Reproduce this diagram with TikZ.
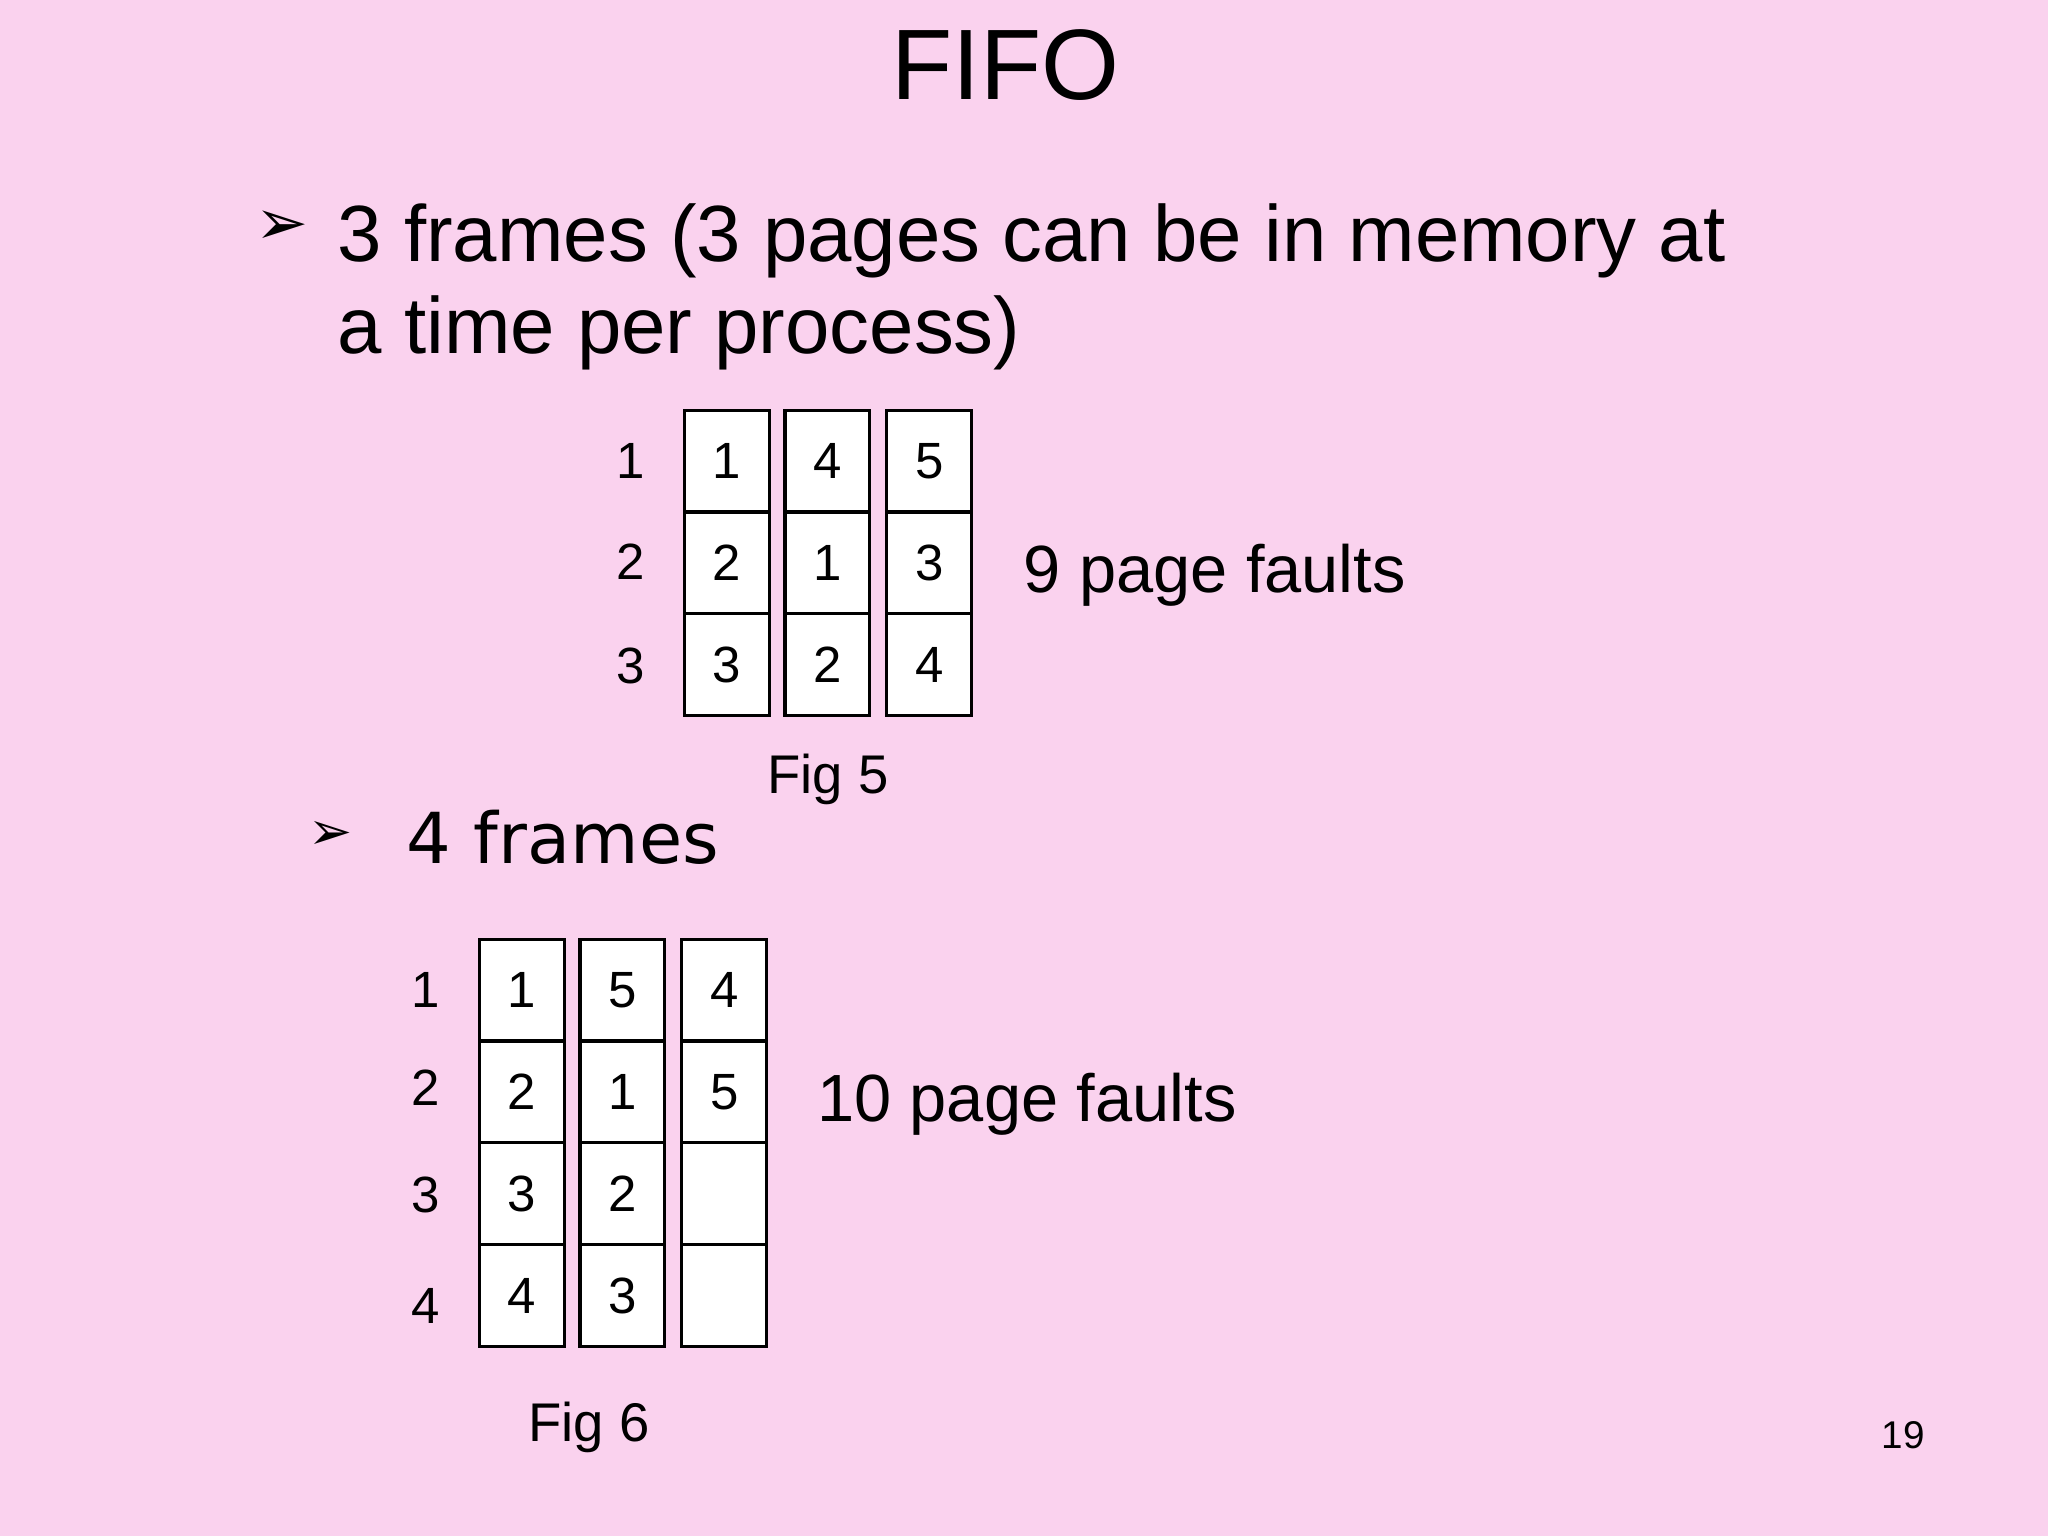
\documentclass[tikz,border=0pt]{standalone}
\usepackage{fontspec}
\setmainfont{Liberation Sans}
\newfontfamily\dv{DejaVu Sans}
\definecolor{bg}{HTML}{FAD2EE}
\begin{document}
\begin{tikzpicture}[x=0.013061cm,y=-0.013061cm,
  cell/.style={draw=black,line width=0.9pt,fill=white,minimum width=65*0.013061cm,minimum height=78*0.013061cm,inner sep=0pt,font=\fontsize{14.5}{16}\selectfont},
  lab/.style={font=\fontsize{14.5}{16}\selectfont,inner sep=0pt},
  body/.style={font=\fontsize{22.7}{27}\selectfont,anchor=base west,inner sep=0pt}]
\fill[bg] (0,0) rectangle (1568,1176);
\useasboundingbox (0,0) rectangle (1568,1176);
\node[font=\fontsize{28.5}{32}\selectfont,inner sep=0pt] (title) at (770,50) {FIFO};
\node[font=\dv\fontsize{18}{20}\selectfont,inner sep=0pt] (b1) at (216,174) {➢};
\node[body] (t1) at (258,200) {3 frames (3 pages can be in memory at};
\node[body] (t2) at (258,271) {a time per process)};
% Fig 5
\foreach \c/\x in {1/556.5,2/633.5,3/711.5}{
  \foreach \r/\y in {1/353,2/431,3/509}{
    \node[cell] (a\c\r) at (\x,\y) {};
  }}
\node[lab] at (a11) {1};\node[lab] at (a12) {2};\node[lab] at (a13) {3};
\node[lab] at (a21) {4};\node[lab] at (a22) {1};\node[lab] at (a23) {2};
\node[lab] at (a31) {5};\node[lab] at (a32) {3};\node[lab] at (a33) {4};
\node[lab] (r51) at (483,353) {1};
\node[lab] (r52) at (483,430) {2};
\node[lab] (r53) at (483,510) {3};
\node[font=\fontsize{19}{22}\selectfont,anchor=base west,inner sep=0pt] (pf5) at (783,454) {9 page faults};
\node[font=\fontsize{15.5}{18}\selectfont,inner sep=0pt] (f5) at (634,597) {Fig 5};
% 4 frames
\node[font=\dv\fontsize{15}{18}\selectfont,inner sep=0pt] (b2) at (253,640) {➢};
\node[font=\dv\fontsize{20}{24}\selectfont,anchor=base west,inner sep=0pt] (t3) at (311,661) {4 frames};
% Fig 6
\foreach \c/\x in {1/399.5,2/476.5,3/554.5}{
  \foreach \r/\y in {1/758,2/836,3/914,4/992}{
    \node[cell] (b\c\r) at (\x,\y) {};
  }}
\node[lab] at (b11) {1};\node[lab] at (b12) {2};\node[lab] at (b13) {3};\node[lab] at (b14) {4};
\node[lab] at (b21) {5};\node[lab] at (b22) {1};\node[lab] at (b23) {2};\node[lab] at (b24) {3};
\node[lab] at (b31) {4};\node[lab] at (b32) {5};
\node[lab] (r61) at (326,758) {1};
\node[lab] (r62) at (326,833) {2};
\node[lab] (r63) at (326,915) {3};
\node[lab] (r64) at (326,1000) {4};
\node[font=\fontsize{19}{22}\selectfont,anchor=base west,inner sep=0pt] (pf6) at (625,859) {10 page faults};
\node[font=\fontsize{15.5}{18}\selectfont,inner sep=0pt] (f6) at (451,1093) {Fig 6};
\node[font=\fontsize{11}{13}\selectfont,inner sep=0pt] (pg) at (1457,1099) {19};
\end{tikzpicture}
\end{document}
